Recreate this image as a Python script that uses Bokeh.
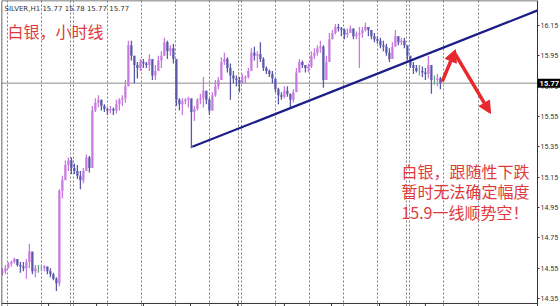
from bokeh.plotting import figure
from bokeh.models import (Range1d, FixedTicker, PrintfTickFormatter, Span, Label,
                          Arrow, NormalHead, ColumnDataSource, LinearAxis)
from bokeh.embed import file_html
from bokeh.resources import INLINE

# ---- SILVER hourly bars (bar index = hour) ----
symbol = "SILVER,H1"
quote = ["15.77", "15.78", "15.77", "15.77"]

high = [14.55, 14.57, 14.59, 14.60, 14.62, 14.61, 14.59, 14.59, 14.61, 14.71,
        14.65, 14.57, 14.57, 14.57, 14.57, 14.56, 14.55, 14.52, 14.49, 15.07,
        15.16, 15.26, 15.28, 15.28, 15.24, 15.23, 15.19, 15.21, 15.30, 15.29,
        15.62, 15.67, 15.69, 15.66, 15.63, 15.61, 15.62, 15.61, 15.66, 15.67,
        15.69, 15.79, 16.05, 16.05, 15.95, 15.91, 15.93, 15.93, 15.91, 15.96,
        15.91, 15.89, 15.95, 15.98, 16.07, 16.05, 16.02, 16.03, 15.92, 15.67,
        15.67, 15.67, 15.68, 15.66, 15.62, 15.67, 15.70, 15.81, 15.72, 15.67,
        15.71, 15.79, 15.81, 15.94, 15.97, 15.94, 15.90, 15.85, 15.82, 15.81,
        15.83, 15.82, 15.87, 16.00, 16.01, 15.98, 16.04, 15.94, 15.88, 15.86,
        15.85, 15.79, 15.74, 15.71, 15.75, 15.75, 15.70, 15.73, 15.87, 15.93,
        15.92, 15.89, 15.90, 15.98, 16.00, 16.02, 16.05, 16.02, 15.95, 16.10,
        16.12, 16.16, 16.16, 16.14, 16.13, 16.13, 16.15, 16.13, 16.11, 16.14,
        16.14, 16.17, 16.14, 16.12, 16.10, 16.08, 16.07, 16.05, 16.03, 16.00,
        16.04, 16.12, 16.08, 16.07, 16.07, 16.01, 15.95, 15.91, 15.89, 15.89,
        15.88, 15.87, 15.95, 15.85, 15.82, 15.83, 15.81]

low = [14.50, 14.51, 14.55, 14.56, 14.58, 14.56, 14.52, 14.53, 14.48, 14.55,
       14.51, 14.49, 14.52, 14.53, 14.53, 14.51, 14.49, 14.47, 14.40, 14.43,
       15.01, 15.14, 15.19, 15.17, 15.17, 15.14, 15.07, 15.11, 15.21, 15.18,
       15.21, 15.58, 15.61, 15.59, 15.58, 15.56, 15.57, 15.56, 15.57, 15.59,
       15.62, 15.64, 15.75, 15.92, 15.77, 15.80, 15.85, 15.87, 15.87, 15.85,
       15.79, 15.79, 15.85, 15.87, 15.95, 15.93, 15.95, 15.90, 15.62, 15.59,
       15.56, 15.63, 15.61, 15.34, 15.52, 15.59, 15.63, 15.61, 15.63, 15.56,
       15.59, 15.68, 15.73, 15.79, 15.89, 15.84, 15.66, 15.77, 15.75, 15.71,
       15.77, 15.77, 15.80, 15.87, 15.92, 15.87, 15.91, 15.85, 15.83, 15.81,
       15.77, 15.71, 15.63, 15.66, 15.67, 15.68, 15.61, 15.64, 15.72, 15.84,
       15.87, 15.84, 15.84, 15.87, 15.93, 15.95, 15.97, 15.74, 15.79, 15.92,
       16.06, 16.09, 16.11, 16.08, 16.06, 16.07, 16.10, 16.06, 16.06, 15.87,
       16.07, 16.11, 16.08, 16.06, 16.04, 16.03, 16.00, 15.98, 15.95, 15.91,
       15.93, 16.02, 16.02, 16.02, 16.00, 15.92, 15.87, 15.83, 15.84, 15.82,
       15.81, 15.79, 15.80, 15.70, 15.76, 15.75, 15.73]

close = [14.53, 14.55, 14.58, 14.59, 14.61, 14.57, 14.56, 14.55, 14.59, 14.66,
         14.53, 14.55, 14.55, 14.55, 14.56, 14.53, 14.51, 14.48, 14.45, 15.06,
         15.13, 15.23, 15.26, 15.21, 15.19, 15.16, 15.13, 15.19, 15.28, 15.21,
         15.59, 15.64, 15.66, 15.62, 15.60, 15.59, 15.60, 15.59, 15.63, 15.66,
         15.67, 15.75, 16.02, 15.95, 15.89, 15.87, 15.91, 15.90, 15.89, 15.93,
         15.82, 15.85, 15.92, 15.95, 16.04, 15.98, 16.00, 15.93, 15.66, 15.63,
         15.65, 15.66, 15.67, 15.58, 15.60, 15.66, 15.67, 15.72, 15.66, 15.59,
         15.69, 15.75, 15.79, 15.91, 15.93, 15.87, 15.82, 15.80, 15.79, 15.77,
         15.80, 15.81, 15.85, 15.97, 15.95, 15.96, 15.93, 15.87, 15.85, 15.83,
         15.80, 15.73, 15.69, 15.68, 15.72, 15.70, 15.66, 15.71, 15.84, 15.91,
         15.89, 15.87, 15.88, 15.95, 15.97, 16.00, 16.01, 15.79, 15.91, 16.06,
         16.10, 16.14, 16.13, 16.12, 16.09, 16.10, 16.13, 16.08, 16.09, 16.10,
         16.12, 16.14, 16.12, 16.08, 16.06, 16.05, 16.02, 16.01, 15.97, 15.93,
         16.01, 16.08, 16.04, 16.05, 16.02, 15.95, 15.89, 15.87, 15.85, 15.85,
         15.84, 15.83, 15.89, 15.79, 15.79, 15.80, 15.77]

first_open = 14.52
last_price = 15.77

# support line drawn under the lows (hour, price)
trend_start = (63.3, 15.35)
trend_end = (178.4, 16.25)

price_ticks = [14.35, 14.55, 14.75, 14.95, 15.15, 15.35, 15.55, 15.75, 15.95, 16.15]
time_ticks = [15.4, 31.4, 47.0, 62.7, 78.4, 94.0, 109.7, 125.7, 141.0]
grid_ticks = [1.7, 13.0, 22.7, 23.7, 35.0, 46.4, 57.7, 69.0, 78.7, 79.7, 91.0,
              102.4, 113.7, 125.0, 134.7, 135.7, 147.0, 158.7]

title_text = "白银，小时线"
note_lines = ["白银，跟随性下跌", "暂时无法确定幅度", "15.9一线顺势空！"]

# ---- derived bar table ----
hours = list(range(len(close)))
opens = [first_open] + close[:-1]
UP, DOWN, FLAT = "#c97ae0", "#5a58aa", "#6aa58c"
colors = []
for o, c in zip(opens, close):
    if abs(c - o) < 0.005:
        colors.append(FLAT)
    elif c > o:
        colors.append(UP)
    else:
        colors.append(DOWN)

src = ColumnDataSource(dict(x=hours, high=high, low=low, open=opens,
                            close=close, color=colors))

# time window: chart area ends at SCALE_X, the price scale sits to its right
X0, SCALE_X, X_END = -0.3, 178.4, 186.03
Y0, Y1 = 14.297, 16.315     # visible price window
Y_BASE = 14.317             # lower edge of the chart box
p = figure(width=560, height=306, output_backend="svg", toolbar_location=None,
           x_range=Range1d(X0, X_END), y_range=Range1d(Y0, Y1),
           y_axis_location=None, x_axis_location=None,
           min_border_left=1, min_border_top=0, min_border_right=0, min_border_bottom=0,
           background_fill_color="white", border_fill_color="white",
           outline_line_color=None)

# price scale pinned at the right edge of the chart area
ya = LinearAxis(fixed_location=SCALE_X)
ya.ticker = FixedTicker(ticks=price_ticks)
ya.formatter = PrintfTickFormatter(format="%.2f")
ya.major_label_text_font = "Roboto"
ya.major_label_text_font_size = "7px"
ya.major_label_text_color = "#333333"
ya.major_tick_out = 2
ya.major_tick_in = 0
ya.minor_tick_out = 0
ya.minor_tick_in = 0
ya.major_label_standoff = 1
ya.axis_line_color = "#333333"
ya.major_tick_line_color = "#333333"
p.add_layout(ya, "right")

# dotted vertical separators
p.xgrid.ticker = FixedTicker(ticks=grid_ticks)
p.xgrid.grid_line_color = "#808080"
p.xgrid.grid_line_dash = "2 2"
p.xgrid.grid_line_width = 1
p.ygrid.grid_line_color = None

# chart box: left, top and bottom edges, time ticks under the bottom edge
p.add_layout(Span(location=X0, dimension="height", line_color="#333333", line_width=1.5))
p.segment(x0=[X0, X0], y0=[Y1, Y_BASE], x1=[SCALE_X, SCALE_X], y1=[Y1, Y_BASE],
          line_color=["#555555", "#333333"], line_width=[1.5, 1])
p.segment(x0=time_ticks, y0=[Y_BASE] * len(time_ticks), x1=time_ticks,
          y1=[Y0] * len(time_ticks), line_color="#333333", line_width=1)

# bid line
p.segment(x0=[X0], y0=[last_price], x1=[SCALE_X], y1=[last_price],
          line_color="#8c8c8c", line_width=1)

# OHLC bars
p.segment(x0="x", y0="low", x1="x", y1="high", source=src,
          line_color="color", line_width=1.3)
p.segment(x0="x", y0="open", x1="x", y1="close", source=src,
          line_color="color", line_width=2.2)

# support line
p.line([trend_start[0], trend_end[0]], [trend_start[1], trend_end[1]],
       line_color="#1d1d8a", line_width=2.2)

# projected move
RED = "#e8282c"
for (xs, ys, xe, ye) in [(146.6, 15.78, 151.0, 15.99), (150.4, 15.98, 162.7, 15.57)]:
    p.add_layout(Arrow(end=NormalHead(size=12, fill_color=RED, line_color=RED),
                       x_start=xs, y_start=ys, x_end=xe, y_end=ye,
                       line_color=RED, line_width=3.5))

# header
p.add_layout(Label(x=0.7, y=16.262, text=symbol + "  " + " ".join(quote),
                   text_font="DejaVu Sans", text_font_size="7px",
                   text_color="#333333", text_baseline="middle"))

# annotations
p.add_layout(Label(x=1.7, y=16.117, text=title_text, text_font="Noto Sans CJK SC",
                   text_font_size="16px", text_color="#e03a3c", text_baseline="middle"))
for txt, yy in zip(note_lines, [15.188, 15.056, 14.917]):
    p.add_layout(Label(x=133.0, y=yy, text=txt, text_font="Noto Sans CJK SC",
                       text_font_size="16px", text_color="#e03a3c",
                       text_baseline="middle"))

# current price tag on the scale
p.add_layout(Label(x=SCALE_X, y=last_price, text="%.2f" % last_price,
                   text_font="Roboto", text_font_size="7.5px",
                   text_font_style="bold", text_color="white",
                   text_baseline="middle", background_fill_color="black",
                   padding=2, x_offset=0, level="overlay"))

open("out.html", "w").write(file_html(p, INLINE))
